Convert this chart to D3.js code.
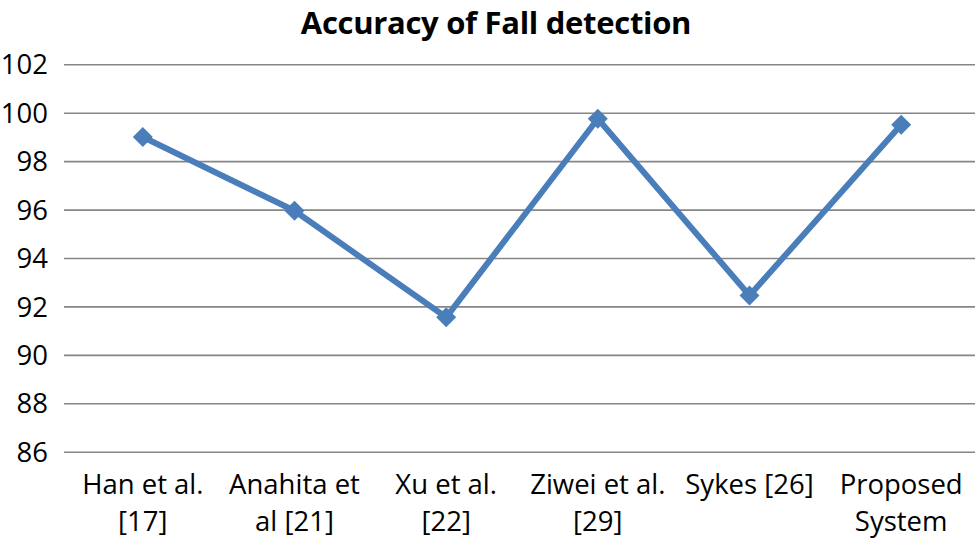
<!DOCTYPE html>
<html><head><meta charset="utf-8">
<script src="https://cdn.jsdelivr.net/npm/d3@7"></script>
<style>body{margin:0;background:#fff}svg{display:block}</style>
</head><body>
<svg id="c" width="980" height="545"></svg>
<script>
const title = "Accuracy of Fall detection";
const categories = [["Han et al.","[17]"],["Anahita et","al [21]"],["Xu et al.","[22]"],["Ziwei et al.","[29]"],["Sykes [26]"],["Proposed","System"]];
const values = [99.0, 95.95, 91.55, 99.75, 92.45, 99.5];
const yTicks = [86, 88, 90, 92, 94, 96, 98, 100, 102];

const svg = d3.select("#c");
const font = "'Open Sans', sans-serif";
const x = d3.scaleBand().domain(d3.range(categories.length)).range([67, 977]);
const y = d3.scaleLinear().domain([86, 102]).range([451.7, 64.3]);

svg.append("text").attr("x", 496).attr("y", 33.5).attr("text-anchor", "middle")
  .attr("font-family", font).attr("font-weight", "bold").attr("font-size", 31)
  .attr("letter-spacing", -0.3).attr("fill", "#000").text(title);

const yAxis = svg.append("g").attr("transform", "translate(64,0)")
  .call(d3.axisLeft(y).tickValues(yTicks).tickSize(-911).tickPadding(16));
yAxis.select(".domain").remove();
yAxis.selectAll(".tick line").attr("stroke", "#868686").attr("stroke-width", 1.6);
yAxis.selectAll(".tick text").attr("font-family", font).attr("font-size", 27.5).attr("fill", "#000").attr("dy", "0.35em");

const xg = svg.append("g");
categories.forEach((lines, i) => {
  const t = xg.append("text").attr("x", x(i) + x.bandwidth() / 2).attr("y", 494)
    .attr("text-anchor", "middle").attr("font-family", font).attr("font-size", 27.5).attr("fill", "#000");
  lines.forEach((l, j) => t.append("tspan").attr("x", x(i) + x.bandwidth() / 2).attr("y", 494 + j * 37).text(l));
});

const line = d3.line().x((d, i) => x(i) + x.bandwidth() / 2).y(d => y(d));
svg.append("path").datum(values).attr("d", line).attr("fill", "none")
  .attr("stroke", "#4a7ebb").attr("stroke-width", 6).attr("stroke-linejoin", "round");

svg.selectAll(".m").data(values).join("path").attr("class", "m")
  .attr("d", d3.symbol().type(d3.symbolSquare).size(200))
  .attr("transform", (d, i) => `translate(${x(i) + x.bandwidth() / 2},${y(d)}) rotate(45)`)
  .attr("fill", "#4a7ebb");
</script>
</body></html>
